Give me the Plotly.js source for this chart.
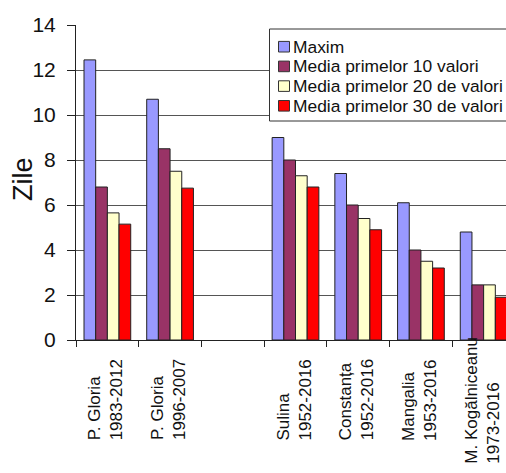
<!DOCTYPE html>
<html>
<head>
<meta charset="utf-8">
<script src="https://cdn.plot.ly/plotly-3.0.1.min.js"></script>
<style>
  html, body { margin: 0; padding: 0; overflow: hidden; background: #fff; }
  #chart { width: 530px; height: 473px; }
</style>
</head>
<body>
<div id="chart"></div>
<script>
// Stations and observation periods (third slot is an empty spacer column)
const stations = ['P. Gloria', 'P. Gloria', '', 'Sulina', 'Constanța', 'Mangalia', 'M. Kogălniceanu'];
const periods  = ['1983-2012', '1996-2007', '', '1952-2016', '1952-2016', '1953-2016', '1973-2016'];

const seriesNames  = ['Maxim', 'Media primelor 10 valori', 'Media primelor 20 de valori', 'Media primelor 30 de valori'];
const seriesColors = ['#9999FF', '#993366', '#FFFFCC', '#FF0000'];

// Number of days per station
const maxim   = [12.45, 10.7, null, 9.0, 7.4, 6.1, 4.8];
const media10 = [6.8,   8.5,  null, 8.0, 6.0, 4.0, 2.45];
const media20 = [5.65,  7.5,  null, 7.3, 5.4, 3.5, 2.45];
const media30 = [5.15,  6.75, null, 6.8, 4.9, 3.2, 1.9];

const yTicks = [0, 2, 4, 6, 8, 10, 12, 14];
const yTitle = 'Zile';

// ---- page geometry ----
const W = 530, H = 473;
const M = { l: 76, r: 15, t: 25, b: 133 };
const plotW = W - M.l - M.r, plotH = H - M.t - M.b;
const px2x = px => (px - M.l) / plotW;
const py2y = py => (H - M.b - py) / plotH;

const FONT = 'Liberation Sans, Arial, sans-serif';
const values = [maxim, media10, media20, media30];
const xs = stations.map((_, i) => i);

const traces = values.map((v, k) => ({
  type: 'bar',
  x: xs,
  y: v,
  name: seriesNames[k],
  marker: { color: seriesColors[k], line: { color: '#222', width: 1 } },
  hoverinfo: 'y+name'
}));

// hand-drawn legend box with swatches
const shapes = [{
  type: 'rect', xref: 'paper', yref: 'paper',
  x0: px2x(269.5), x1: px2x(545), y0: py2y(121), y1: py2y(29),
  fillcolor: '#fff', line: { color: '#333', width: 1 }
}];
const annotations = [];
const rowTop = 46.7, rowStep = 19.7;
seriesNames.forEach((name, k) => {
  const cy = rowTop + k * rowStep;
  shapes.push({
    type: 'rect', xref: 'paper', yref: 'paper',
    x0: px2x(278.5), x1: px2x(289.5), y0: py2y(cy + 5.3), y1: py2y(cy - 5.3),
    fillcolor: seriesColors[k], line: { color: '#333', width: 1 }
  });
  annotations.push({
    xref: 'paper', yref: 'paper', x: px2x(290.5), y: py2y(cy),
    xanchor: 'left', yanchor: 'middle', showarrow: false,
    text: name, font: { family: FONT, size: 17.4, color: '#111' }
  });
});

// rotated two-line station labels under each column
stations.forEach((s, i) => {
  if (!s) return;
  annotations.push({
    xref: 'x', yref: 'paper', x: i, y: 0,
    xanchor: 'center', yanchor: 'middle', yshift: -60, xshift: -2,
    textangle: -90, align: 'left', showarrow: false,
    text: s + '<br>' + periods[i],
    font: { family: FONT, size: 17, color: '#111' }
  });
});

// vertical axis title
annotations.push({
  xref: 'paper', yref: 'paper', x: px2x(23), y: py2y(179),
  xanchor: 'center', yanchor: 'middle', textangle: -90, showarrow: false,
  text: yTitle, font: { family: FONT, size: 27, color: '#111' }
});

const boundaries = xs.concat([xs.length]).map(i => i - 0.5);

const layout = {
  width: W, height: H,
  margin: { l: M.l, r: M.r, t: M.t, b: M.b, pad: 0 },
  paper_bgcolor: '#fff', plot_bgcolor: '#fff',
  showlegend: false,
  barmode: 'group', bargap: 0.255, bargroupgap: 0,
  font: { family: FONT, color: '#111' },
  xaxis: {
    range: [-0.5, stations.length - 0.5],
    tickmode: 'array', tickvals: boundaries, showticklabels: false,
    ticks: 'outside', ticklen: 6, tickcolor: '#222', tickwidth: 1,
    showline: true, linecolor: '#222', linewidth: 1,
    showgrid: false, zeroline: false, automargin: false, fixedrange: true
  },
  yaxis: {
    range: [0, 14],
    tickmode: 'array', tickvals: yTicks,
    ticks: 'outside', ticklen: 8, tickcolor: '#222', tickwidth: 1,
    ticklabelstandoff: 7,
    tickfont: { family: FONT, size: 21, color: '#111' },
    showline: true, linecolor: '#222', linewidth: 1,
    showgrid: true, gridcolor: '#555', gridwidth: 1,
    zeroline: false, automargin: false, fixedrange: true
  },
  shapes: shapes,
  annotations: annotations
};

Plotly.newPlot('chart', traces, layout, { displayModeBar: false, staticPlot: true });
</script>
</body>
</html>
